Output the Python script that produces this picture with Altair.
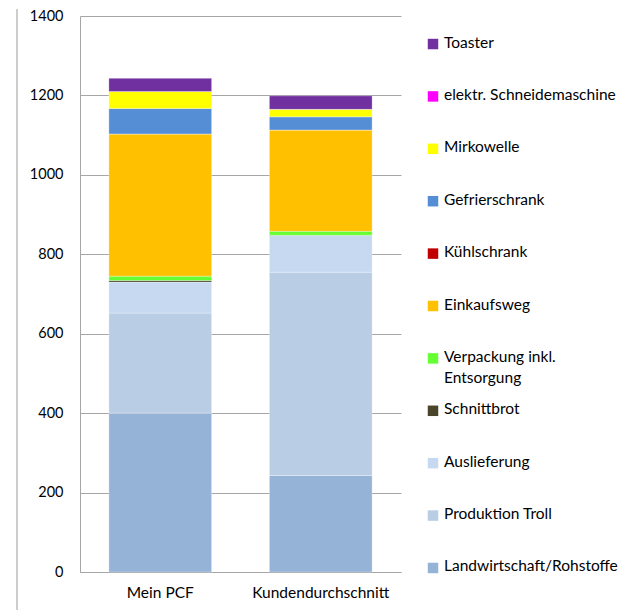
import altair as alt
import pandas as pd

categories = ["Mein PCF", "Kundendurchschnitt"]
series = [
    "Landwirtschaft/Rohstoffe",
    "Produktion Troll",
    "Auslieferung",
    "Schnittbrot",
    "Verpackung inkl. Entsorgung",
    "Einkaufsweg",
    "Kühlschrank",
    "Gefrierschrank",
    "Mirkowelle",
    "elektr. Schneidemaschine",
    "Toaster",
]
legend_labels = [
    "Landwirtschaft/Rohstoffe",
    "Produktion Troll",
    "Auslieferung",
    "Schnittbrot",
    "Verpackung inkl.\nEntsorgung",
    "Einkaufsweg",
    "Kühlschrank",
    "Gefrierschrank",
    "Mirkowelle",
    "elektr. Schneidemaschine",
    "Toaster",
]
mein_pcf = [400, 252, 78, 4, 11, 358, 0, 64, 43, 0, 33]
kundendurchschnitt = [243, 512, 92, 1, 10, 255, 0, 33, 19, 0, 34]
colors = [
    "#95B3D7", "#B9CDE5", "#C6D9F1", "#4A452A", "#66FF33", "#FFC000",
    "#C00000", "#558ED5", "#FFFF00", "#FF00FF", "#7030A0",
]
y_ticks = [0, 200, 400, 600, 800, 1000, 1200, 1400]

FONT = "Lato"

rows = []
for cat, vals in zip(categories, [mein_pcf, kundendurchschnitt]):
    for i, (s, v) in enumerate(zip(series, vals)):
        rows.append({"category": cat, "series": s, "value": v, "order": i})
df = pd.DataFrame(rows)

color_scale = alt.Scale(domain=series, range=colors)

bars = alt.Chart(df).mark_bar(stroke="white", strokeWidth=0.6, strokeOpacity=0.5).encode(
    x=alt.X(
        "category:N", sort=categories,
        scale=alt.Scale(paddingInner=0.36, paddingOuter=0.18),
        axis=alt.Axis(title=None, labelAngle=0, ticks=False, labelPadding=13,
                      domainColor="#a6a6a6", labelFontSize=15.5, labelFont=FONT,
                      labelColor="#000000"),
    ),
    y=alt.Y(
        "value:Q", stack="zero",
        scale=alt.Scale(domain=[0, 1400], nice=False),
        axis=alt.Axis(title=None, values=y_ticks, format="d", ticks=False, labelPadding=17,
                      minExtent=47, maxExtent=47, gridColor="#a6a6a6",
                      domainColor="#a6a6a6", labelFontSize=14.5, labelFont=FONT,
                      labelColor="#000000"),
    ),
    color=alt.Color("series:N", scale=color_scale, legend=None),
    order=alt.Order("order:Q"),
)

frame = alt.Chart(pd.DataFrame({"a": [0]})).mark_rule(color="#9a9a9a", strokeWidth=1).encode(
    x=alt.value(-63), y=alt.value(-7), y2=alt.value(600)
)

bar_chart = alt.layer(frame, bars).properties(width=321, height=556)

leg_df = pd.DataFrame({"series": series, "label": legend_labels})
legend_order = list(reversed(series))
base = alt.Chart(leg_df).encode(
    y=alt.Y("series:N", sort=legend_order, axis=None,
            scale=alt.Scale(type="point", padding=0.535))
)
squares = base.mark_square(size=110, opacity=1).encode(
    x=alt.value(12),
    color=alt.Color("series:N", scale=color_scale, legend=None),
)
texts = base.mark_text(
    align="left", baseline="top", dy=-8.5, fontSize=15.5, font=FONT,
    lineBreak="\n", lineHeight=21, color="#000000",
).encode(x=alt.value(23), text="label:N")
legend_chart = alt.layer(squares, texts).properties(width=190, height=580)

chart = alt.hconcat(bar_chart, legend_chart, spacing=20).properties(
    padding={"left": 8, "top": 0, "right": 0, "bottom": 0}
).configure_view(strokeWidth=0)

chart.save("out.html", embed_options={"renderer": "svg", "actions": False})
